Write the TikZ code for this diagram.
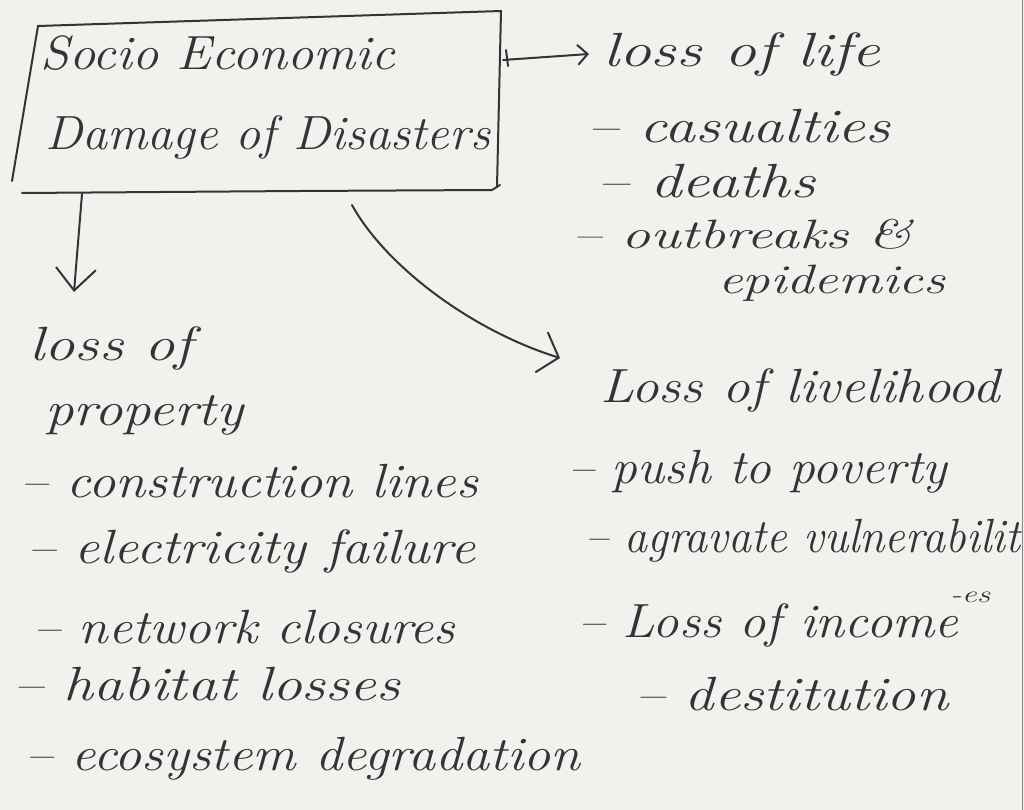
\documentclass[tikz,border=0pt]{standalone}
\usepackage{graphicx}
\usetikzlibrary{arrows.meta}
\definecolor{paper}{RGB}{241,241,238}
\definecolor{ink}{RGB}{52,52,56}
% stretch a piece of text to a given width, keeping its height
\newcommand\hw[2]{\resizebox{#1pt}{\height}{#2}}
\tikzset{
  hand/.style={font=\fontsize{48}{58}\selectfont\itshape, text=ink, inner sep=0pt, anchor=base west},
  tighthand/.style={hand, font=\fontsize{41}{46}\selectfont\itshape},
  smallhand/.style={hand, font=\fontsize{24}{28}\selectfont\itshape},
  pen/.style={draw=ink, line width=2pt, line cap=round, line join=round},
}
\begin{document}
\begin{tikzpicture}[x=1pt,y=-1pt]
  \useasboundingbox (0,0) rectangle (1024,810);
  \fill[paper] (0,0) rectangle (1024,810);
  \draw[ink!60, line width=1.5pt] (1022.5,0) -- (1022.5,810);

  % title box
  \node[hand] (t1) at (40,70) {\hw{355}{Socio Economic}};
  \node[hand] (t2) at (45,150) {\hw{445}{Damage of Disasters}};
  \draw[pen] (38,26) -- (501,11) -- (497,187);
  \draw[pen] (38,26) -- (12,181);
  \draw[pen] (22,193) -- (300,191) -- (492,190) -- (500,185);

  % loss of life
  \node[hand] (life) at (603,67) {\hw{277}{loss of life}};
  \node[hand] (cas) at (587,143) {\hw{303}{-- casualties}};
  \node[hand] (dea) at (597,198) {\hw{218}{-- deaths}};
  \node[tighthand] (out) at (572,248) {\hw{340}{-- outbreaks \&}};
  \node[tighthand] (epi) at (718,293) {\hw{227}{epidemics}};

  % loss of livelihood
  \node[hand] (live) at (600,402) {\hw{400}{Loss of livelihood}};
  \node[hand] (push) at (568,483) {\hw{379}{-- push to poverty}};
  \node[hand] (agr) at (585,552) {\hw{435}{-- agravate vulnerabilit}};
  \node[smallhand] (es) at (950,602) {\hw{40}{-es}};
  \node[hand] (inc) at (578,637) {\hw{380}{-- Loss of income}};
  \node[hand] (des) at (635,710) {\hw{313}{-- destitution}};

  % loss of property
  \node[hand] (prop1) at (29,360) {\hw{164}{loss of}};
  \node[hand] (prop2) at (45,425) {\hw{198}{property}};
  \node[hand] (con) at (20,497) {\hw{458}{-- construction lines}};
  \node[hand] (ele) at (27,563) {\hw{448}{-- electricity failure}};
  \node[hand] (net) at (33,643) {\hw{422}{-- network closures}};
  \node[hand] (hab) at (13,700) {\hw{387}{-- habitat losses}};
  \node[hand] (eco) at (25,770) {\hw{555}{-- ecosystem degradation}};

  % connector ends
  \coordinate (boxR) at (503,60);
  \coordinate (lifeIn) at (589,54);
  \coordinate (boxB) at (82,194);
  \coordinate (propIn) at (74,292);
  \coordinate (boxC) at (352,205);
  \coordinate (liveIn) at (560,358);

  \draw[pen] (506,50) -- (508,66);
  \draw[pen, -{Straight Barb[length=10pt,width=20pt]}] (boxR) -- (lifeIn);
  \draw[pen, -{Straight Barb[length=22pt,width=40pt]}] (boxB) -- (propIn);
  \draw[pen, -{Straight Barb[length=18pt,width=42pt]}] (boxC) .. controls (385,265) and (470,330) .. (liveIn);
\end{tikzpicture}
\end{document}
